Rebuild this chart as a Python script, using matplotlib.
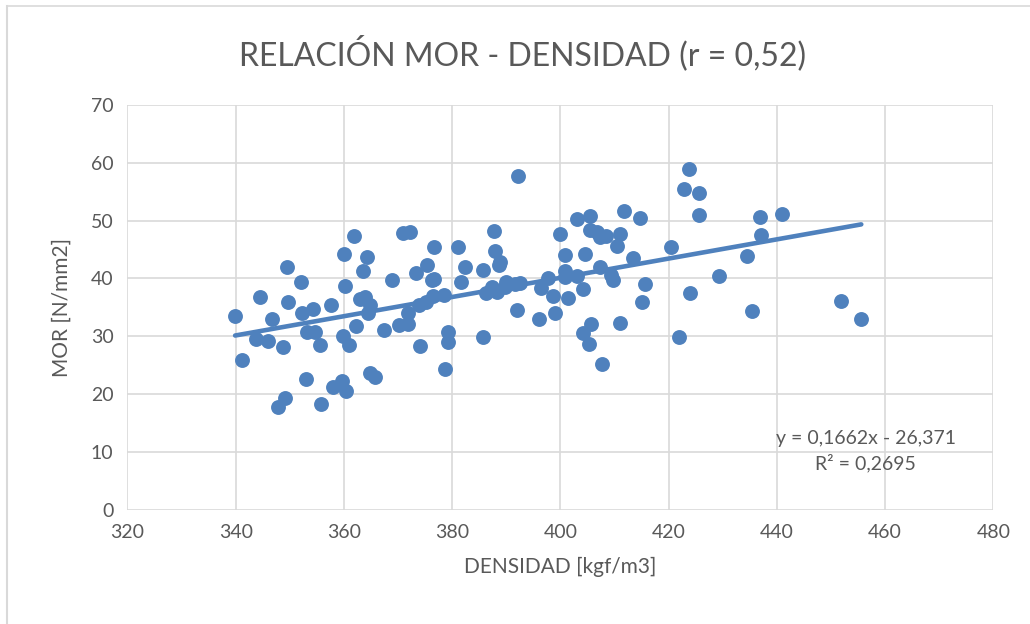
import matplotlib
matplotlib.use("Agg")
import matplotlib.pyplot as plt
from matplotlib.lines import Line2D
import numpy as np

# densidad [kgf/m3] / MOR [N/mm2]
densidad = [
    339.9, 341.2, 344.5, 343.7, 346.0, 346.8, 348.8, 349.4, 349.6, 352.1,
    352.2, 354.3, 353.1, 354.6, 355.6, 347.9, 349.2, 353.0, 355.7, 357.6,
    358.0, 359.6, 360.4, 359.9, 361.0, 360.0, 360.2, 361.8, 362.3, 364.3,
    363.6, 363.0, 363.9, 364.9, 364.5, 364.8, 365.7, 367.4, 368.9, 370.2,
    371.9, 371.0, 372.2, 371.9, 373.4, 375.3, 376.7, 376.2, 376.6, 374.0,
    373.9, 375.1, 376.5, 378.5, 379.2, 379.2, 378.7, 381.0, 382.4, 381.6,
    385.7, 385.7, 392.1, 387.8, 387.9, 388.8, 388.7, 386.2, 387.3, 388.3,
    390.0, 389.7, 392.5, 391.6, 392.0, 396.0, 396.5, 397.7, 398.7, 399.0,
    400.0, 400.8, 400.8, 400.8, 401.4, 403.1, 405.4, 405.4, 406.7, 407.3,
    408.5, 404.5, 403.1, 404.2, 407.3, 409.4, 409.7, 404.2, 405.6, 405.3,
    407.7, 411.0, 410.5, 411.7, 414.7, 413.4, 415.6, 415.1, 411.0, 420.4,
    422.8, 423.7, 425.7, 425.6, 423.9, 421.9, 429.3, 436.8, 440.9, 437.1,
    434.4, 435.4, 451.9, 455.6,
]
mor = [
    33.5, 25.9, 36.8, 29.6, 29.2, 33.0, 28.1, 41.9, 35.9, 39.3,
    34.0, 34.7, 30.8, 30.8, 28.4, 17.8, 19.3, 22.6, 18.2, 35.4,
    21.3, 22.3, 20.5, 30.0, 28.5, 44.2, 38.7, 47.3, 31.8, 43.7,
    41.3, 36.5, 36.8, 35.4, 34.0, 23.7, 23.0, 31.1, 39.7, 31.9,
    32.1, 47.8, 48.0, 34.0, 41.0, 42.3, 45.5, 39.7, 39.9, 28.3,
    35.4, 35.9, 37.0, 37.1, 30.8, 29.0, 24.3, 45.4, 41.9, 39.4,
    41.5, 29.9, 57.7, 48.2, 44.8, 42.9, 42.3, 37.4, 38.6, 37.7,
    39.4, 38.6, 39.2, 39.0, 34.5, 33.0, 38.3, 40.0, 37.0, 34.1,
    47.6, 44.0, 41.3, 40.3, 36.6, 50.2, 50.8, 48.4, 48.1, 47.2,
    47.3, 44.2, 40.4, 38.2, 42.0, 40.6, 39.7, 30.6, 32.1, 28.6,
    25.2, 47.6, 45.6, 51.7, 50.4, 43.5, 39.1, 35.9, 32.3, 45.5,
    55.4, 59.0, 54.7, 50.9, 37.5, 29.9, 40.4, 50.7, 51.1, 47.5,
    43.9, 34.4, 36.1, 33.0,
]

# linear trendline as printed on the chart
pendiente = 0.1662
ordenada = -26.371
eq_text = "y = 0,1662x - 26,371\nR² = 0,2695"

x_ticks = [320, 340, 360, 380, 400, 420, 440, 460, 480]
y_ticks = [0, 10, 20, 30, 40, 50, 60, 70]

azul = "#4F81BD"
gris_txt = "#595959"
gris_grid = "#D9D9D9"

plt.rcParams['font.family'] = ['Lato', 'DejaVu Sans']

fig = plt.figure(figsize=(10.3, 6.24), dpi=100)
ax = fig.add_axes([0.1237, 0.1833, 0.8407, 0.6484])

ax.scatter(densidad, mor, s=115, color=azul, zorder=3, linewidths=0)

xt = np.array([min(densidad), max(densidad)])
ax.plot(xt, pendiente * xt + ordenada, color=azul, lw=3.3, zorder=4,
        solid_capstyle='round')

ax.set_xlim(320, 480)
ax.set_ylim(0, 70)
ax.set_xticks(x_ticks)
ax.set_yticks(y_ticks)
ax.grid(True, color=gris_grid, lw=1.2, zorder=0)
for s in ax.spines.values():
    s.set_visible(False)
ax.tick_params(length=0, labelsize=14, colors=gris_txt, pad=10)

ax.set_xlabel("DENSIDAD [kgf/m3]", fontsize=15, color=gris_txt, labelpad=12)
ax.set_ylabel("MOR [N/mm2]", fontsize=15, color=gris_txt, labelpad=14)

ax.text(456.4, 10.1, eq_text, ha='center', va='center', fontsize=14,
        color=gris_txt, linespacing=1.45, zorder=5)

fig.text(523 / 1030, 1 - 53 / 624, "RELACIÓN MOR - DENSIDAD (r = 0,52)",
         ha='center', va='center', fontsize=23, color=gris_txt)

# chart frame: only top and left edges show in the screenshot
fx = 6.5 / 1030
fy = 1 - 6.0 / 624
fig.lines.append(Line2D([fx, fx], [0, fy], transform=fig.transFigure,
                        color=gris_grid, lw=1.5))
fig.lines.append(Line2D([fx, 1], [fy, fy], transform=fig.transFigure,
                        color=gris_grid, lw=1.2))

fig.savefig("out.png", dpi=100, facecolor="white")
